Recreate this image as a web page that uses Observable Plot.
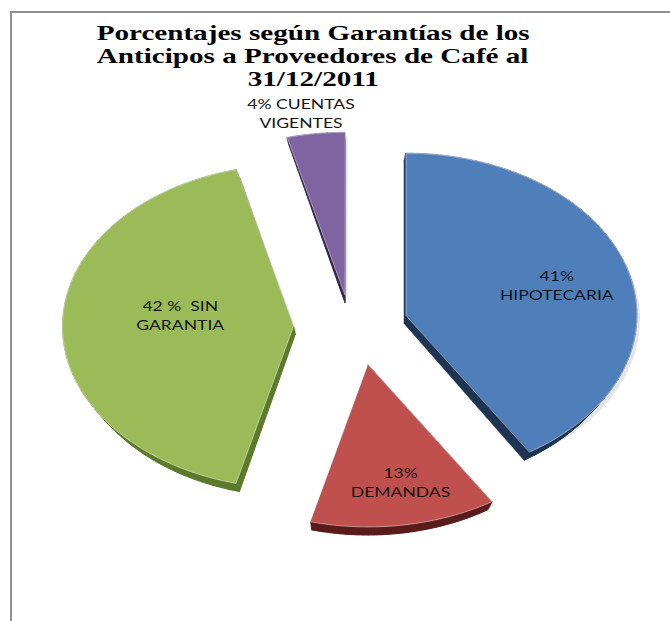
<!DOCTYPE html>
<html><head><meta charset="utf-8">
<script src="https://cdn.jsdelivr.net/npm/d3@7"></script>
<script src="https://cdn.jsdelivr.net/npm/@observablehq/plot@0.6"></script>
<style>
html,body{margin:0;padding:0;background:#fff;overflow:hidden}
#wrap{position:relative;width:670px;height:621px;overflow:hidden;background:#fff}
#chart{position:absolute;left:0;top:0}
#frame{position:absolute;left:10px;top:11px;width:720px;height:720px;border-left:2px solid #8f8f8f;border-top:2px solid #8f8f8f;pointer-events:none}
#title{position:absolute;left:0;top:22px;width:626px;font-family:"Liberation Serif","Times New Roman",serif;font-weight:bold;font-size:21px;line-height:23px;color:#000;text-align:center}
#title div{white-space:nowrap}
#title span{display:inline-block;transform-origin:50% 50%;white-space:pre}
</style></head>
<body>
<div id="wrap"><div id="chart"></div><div id="title"></div><div id="frame"></div></div>
<script>
// ---- data ----
const categories = ["HIPOTECARIA", "DEMANDAS", "SIN GARANTIA", "CUENTAS VIGENTES"];
const values = [41, 13, 42, 4];
const labels = ["41%\nHIPOTECARIA", "13%\nDEMANDAS", "42 %  SIN\nGARANTIA", "4% CUENTAS\nVIGENTES"];
const titleLines = ["Porcentajes según Garantías de los", "Anticipos a Proveedores de Café al", "31/12/2011"];

// ---- style ----
const topColors = ["#4f7fba", "#bf504d", "#9bbb59", "#8064a2"];
const sideColors = ["#1d3452", "#5a1c1b", "#5d7a2b", "#372850"];
const explode = [0.25, 0.24, 0.247, 0.2];
const extraShiftPx = [[0, 0], [9, 0], [0, 0], [0, 0]];
const labelRadius = [0.68, 0.73, 0.49, 1.13];
const labelNudge = [[0, 0], [6, 0], [0, -12], [-11, 0]];
const depth = 0.05, persp = 0.03;
const W = 670, H = 621, cxPx = 350, cyPx = 326, rxPx = 231, ryPx = 162;
const textStretch = 1.3;

// ---- geometry from values ----
const arcs = d3.pie().sort(null).value(d => d)(values);
const topRows = [], sideRows = [], shadowRows = [], labelRows = [];
arcs.forEach((s, i) => {
  const mid = (s.startAngle + s.endAngle) / 2;
  const ox = explode[i] * Math.sin(mid) + extraShiftPx[i][0] / rxPx;
  const oy = explode[i] * Math.cos(mid) - extraShiftPx[i][1] / ryPx;
  const pts = [[ox, oy]];
  const n = Math.max(6, Math.ceil((s.endAngle - s.startAngle) / (Math.PI / 120)));
  for (let k = 0; k <= n; k++) {
    const a = s.startAngle + (s.endAngle - s.startAngle) * k / n;
    pts.push([ox + Math.sin(a), oy + Math.cos(a)]);
  }
  const bot = pts.map(([x, y]) => [x * (1 - persp), y - depth]);
  pts.forEach(([x, y]) => {
    topRows.push({id: "t" + i, cat: categories[i], x, y});
    shadowRows.push({id: "s" + i, x: x + 3 / rxPx, y: y - 4 / ryPx});
  });
  bot.forEach(([x, y]) => sideRows.push({id: "b" + i, slice: i, x, y}));
  for (let j = 0; j < pts.length; j++) {
    const j2 = (j + 1) % pts.length, id = "q" + i + "_" + j;
    [pts[j], pts[j2], bot[j2], bot[j]].forEach(([x, y]) => sideRows.push({id, slice: i, x, y}));
  }
  labelRows.push({
    cat: categories[i], text: labels[i],
    x: ox + labelRadius[i] * Math.sin(mid), y: oy + labelRadius[i] * Math.cos(mid)
  });
});

const order = [3, 0, 2, 1];
const marks = [
  Plot.line(shadowRows, {x: "x", y: "y", z: "id", fill: "#000", fillOpacity: 0.1, curve: "linear-closed"})
];
order.forEach(i => {
  marks.push(Plot.line(sideRows.filter(d => d.slice === i), {x: "x", y: "y", z: "id", fill: sideColors[i], stroke: sideColors[i], strokeWidth: 0.6, curve: "linear-closed"}));
  marks.push(Plot.line(topRows.filter(d => d.cat === categories[i]), {x: "x", y: "y", z: "id", fill: "cat", stroke: "#ffffff", strokeOpacity: 0.45, strokeWidth: 1, curve: "linear-closed"}));
});
labelRows.forEach((d, i) => {
  marks.push(Plot.text([d], {x: "x", y: "y", text: "text", dx: labelNudge[i][0], dy: labelNudge[i][1],
    fontFamily: "Lato, 'Open Sans', sans-serif", fontSize: 13.5, lineHeight: 1.4, fill: "#141414"}));
});

const svg = Plot.plot({
  width: W, height: H, margin: 0,
  x: {domain: [-cxPx / rxPx, (W - cxPx) / rxPx], axis: null},
  y: {domain: [(cyPx - H) / ryPx, cyPx / ryPx], axis: null},
  color: {domain: categories, range: topColors},
  style: {background: "transparent"},
  marks
});
svg.querySelectorAll('g[aria-label="text"] text').forEach(t => {
  const tr = t.getAttribute("transform");
  if (tr) t.setAttribute("transform", tr + ` scale(${textStretch},1)`);
  else {
    const x = +t.getAttribute("x") || 0, y = +t.getAttribute("y") || 0;
    t.removeAttribute("x"); t.removeAttribute("y");
    t.setAttribute("transform", `translate(${x},${y}) scale(${textStretch},1)`);
  }
});
document.getElementById("chart").appendChild(svg);

// title
const ctx = document.createElement("canvas").getContext("2d");
ctx.font = "bold 21px 'Liberation Serif'";
const sc = 433 / ctx.measureText(titleLines[0]).width;
const tEl = document.getElementById("title");
titleLines.forEach(l => {
  const div = document.createElement("div");
  const sp = document.createElement("span");
  sp.textContent = l;
  sp.style.transform = `scaleX(${sc})`;
  div.appendChild(sp);
  tEl.appendChild(div);
});
</script>
</body></html>
